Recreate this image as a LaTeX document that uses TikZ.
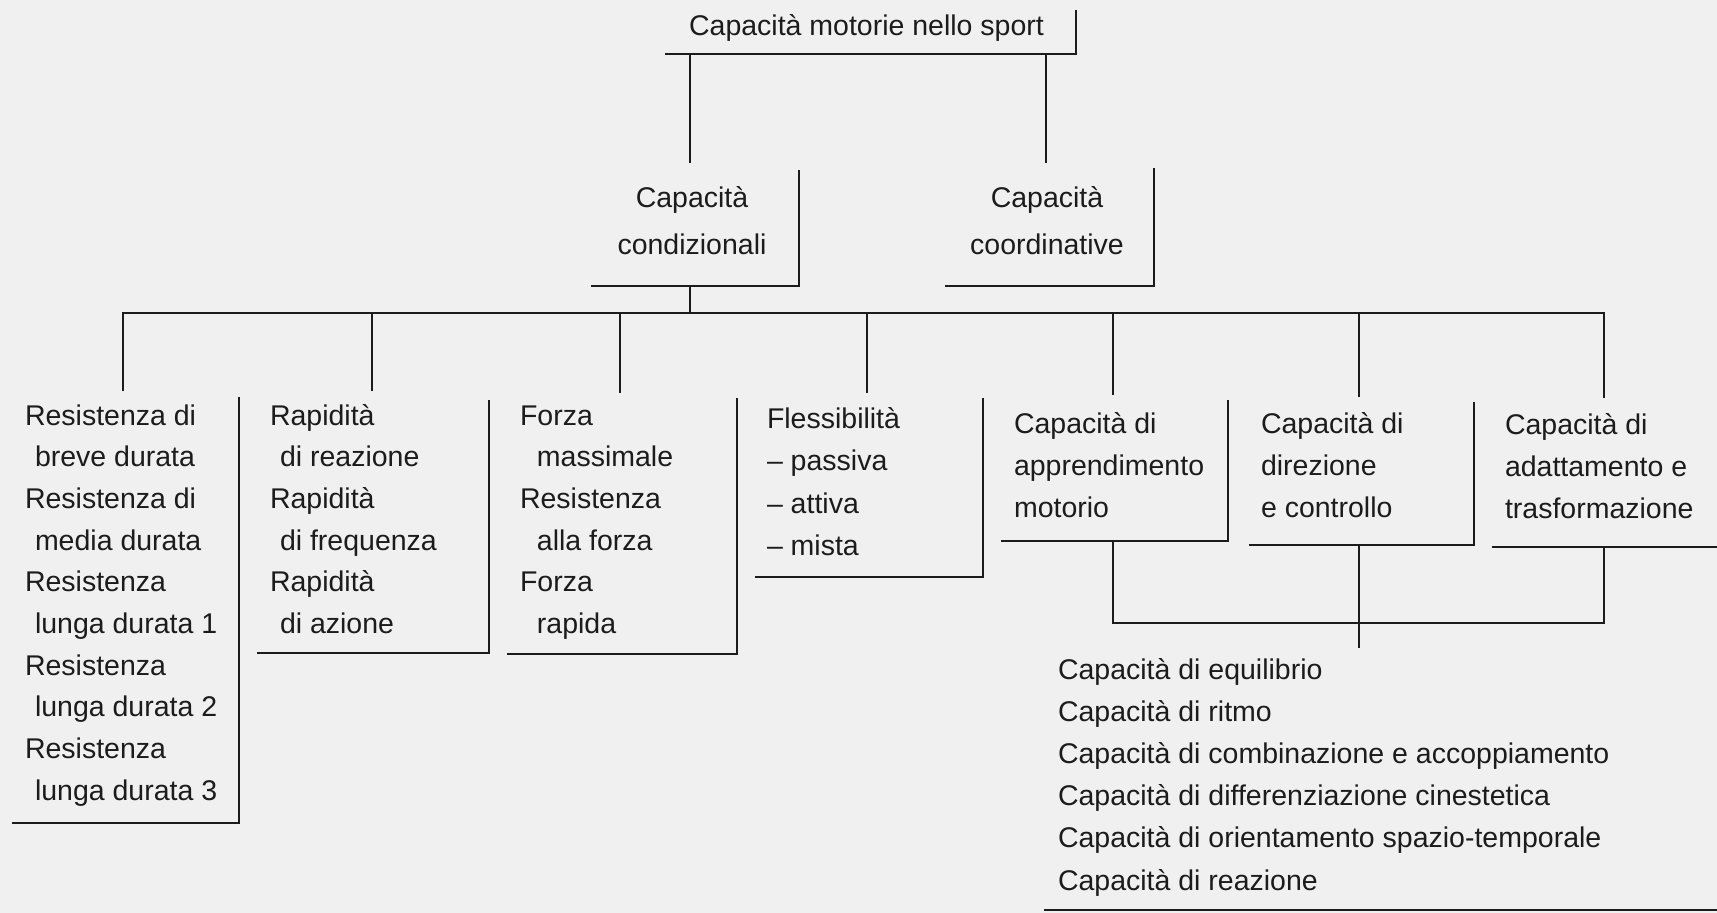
\documentclass[tikz,border=0pt]{standalone}
\usepackage{fontspec}
\setmainfont{Liberation Sans}
\usetikzlibrary{fit}
\definecolor{paper}{RGB}{240,240,240}
\definecolor{ink}{RGB}{28,28,28}
\newcommand{\ind}[1][10pt]{\hspace*{#1}}
\begin{document}
\begin{tikzpicture}[x=1pt,y=-1pt,
  line width=2.8pt, draw=ink,
  area/.style={inner sep=0pt, outer sep=0pt, draw=none},
  txt/.style={inner sep=0pt, outer sep=0pt, text=ink, font=\fontsize{28.5}{#1}\selectfont},
  txt/.default=41.7,
  link/.style={line width=2.8pt, draw=ink}]
\useasboundingbox (0,0) rectangle (1717,913);
\fill[paper] (0,0) rectangle (1717,913);

% ---- box areas (bracket frames) ----
\node[area, fit={(665,10) (1076,54)}] (title) {};
\node[area, fit={(591,170) (799,286)}] (cond) {};
\node[area, fit={(945,168) (1154,286)}] (coord) {};
\node[area, fit={(12,397) (239,823)}] (res) {};
\node[area, fit={(257,400) (489,653)}] (rap) {};
\node[area, fit={(507,398) (737,654)}] (forza) {};
\node[area, fit={(755,398) (983,577)}] (fless) {};
\node[area, fit={(1001,400) (1228,541)}] (appr) {};
\node[area, fit={(1249,402) (1474,545)}] (dir) {};
\node[area, fit={(1492,403) (1717,547)}] (adat) {};
\node[area, fit={(1044,655) (1717,910)}] (list) {};

% brackets
\foreach \b in {title,cond,coord,res,rap,forza,fless,appr,dir}
  \draw (\b.north east) -- (\b.south east) -- (\b.south west);
\draw (adat.south east) -- (adat.south west);
\draw (list.south east) -- (list.south west);

% ---- texts ----
\node[txt, anchor=base] (titleT) at (866.5,35) {Capacità motorie nello sport};
\node[txt=47, anchor=base] (condT) at (692,207)
  {\begin{tabular}[t]{@{}c@{}}Capacità\\condizionali\end{tabular}};
\node[txt=47, anchor=base] (coordT) at (1047,207)
  {\begin{tabular}[t]{@{}c@{}}Capacità\\coordinative\end{tabular}};
\node[txt, anchor=base west] (resT) at (25,425)
  {\begin{tabular}[t]{@{}l@{}}Resistenza di\\\ind breve durata\\Resistenza di\\\ind media durata\\Resistenza\\\ind lunga durata 1\\Resistenza\\\ind lunga durata 2\\Resistenza\\\ind lunga durata 3\end{tabular}};
\node[txt, anchor=base west] (rapT) at (270,425)
  {\begin{tabular}[t]{@{}l@{}}Rapidità\\\ind di reazione\\Rapidità\\\ind di frequenza\\Rapidità\\\ind di azione\end{tabular}};
\node[txt, anchor=base west] (forzaT) at (520,425)
  {\begin{tabular}[t]{@{}l@{}}Forza\\\ind[9pt] massimale\\Resistenza\\\ind[9pt] alla forza\\Forza\\\ind[9pt] rapida\end{tabular}};
\node[txt=42.5, anchor=base west] (flessT) at (767,428)
  {\begin{tabular}[t]{@{}l@{}}Flessibilità\\– passiva\\– attiva\\– mista\end{tabular}};
\node[txt=42, anchor=base west] (apprT) at (1014,433)
  {\begin{tabular}[t]{@{}l@{}}Capacità di\\apprendimento\\motorio\end{tabular}};
\node[txt=42, anchor=base west] (dirT) at (1261,433)
  {\begin{tabular}[t]{@{}l@{}}Capacità di\\direzione\\e controllo\end{tabular}};
\node[txt=42, anchor=base west] (adatT) at (1505,434)
  {\begin{tabular}[t]{@{}l@{}}Capacità di\\adattamento e\\trasformazione\end{tabular}};
\node[txt=42.2, anchor=base west] (listT) at (1058,679)
  {\begin{tabular}[t]{@{}l@{}}Capacità di equilibrio\\Capacità di ritmo\\Capacità di combinazione e accoppiamento\\Capacità di differenziazione cinestetica\\Capacità di orientamento spazio-temporale\\Capacità di reazione\end{tabular}};

% ---- connector positions ----
\coordinate (xA) at (690,0);
\coordinate (xB) at (1046,0);
\coordinate (b1) at (123,313);
\coordinate (b2) at (372,313);
\coordinate (b3) at (620,313);
\coordinate (b4) at (867,313);
\coordinate (b5) at (1113,313);
\coordinate (b6) at (1359,313);
\coordinate (b7) at (1604,313);
\coordinate (m1) at (1113,623);
\coordinate (m2) at (1359,623);
\coordinate (m3) at (1604,623);

% ---- connectors ----
\draw[link] (title.south -| xA) -- ([yshift=7pt]cond.north -| xA);
\draw[link] (title.south -| xB) -- ([yshift=5pt]coord.north -| xB);
\draw[link] (cond.south -| xA) -- (xA |- b1);
\draw[link] ([yshift=6pt]res.north -| b1) -- (b1) -- (b7) -- ([yshift=5pt]adat.north -| b7);
\draw[link] (b2) -- ([yshift=9pt]rap.north -| b2);
\draw[link] (b3) -- ([yshift=5pt]forza.north -| b3);
\draw[link] (b4) -- ([yshift=5pt]fless.north -| b4);
\draw[link] (b5) -- ([yshift=5pt]appr.north -| b5);
\draw[link] (b6) -- ([yshift=5pt]dir.north -| b6);
\draw[link] (appr.south -| m1) -- (m1) -- (m3) -- (adat.south -| m3);
\draw[link] (dir.south -| m2) -- ([yshift=7pt]list.north -| m2);
\end{tikzpicture}
\end{document}
